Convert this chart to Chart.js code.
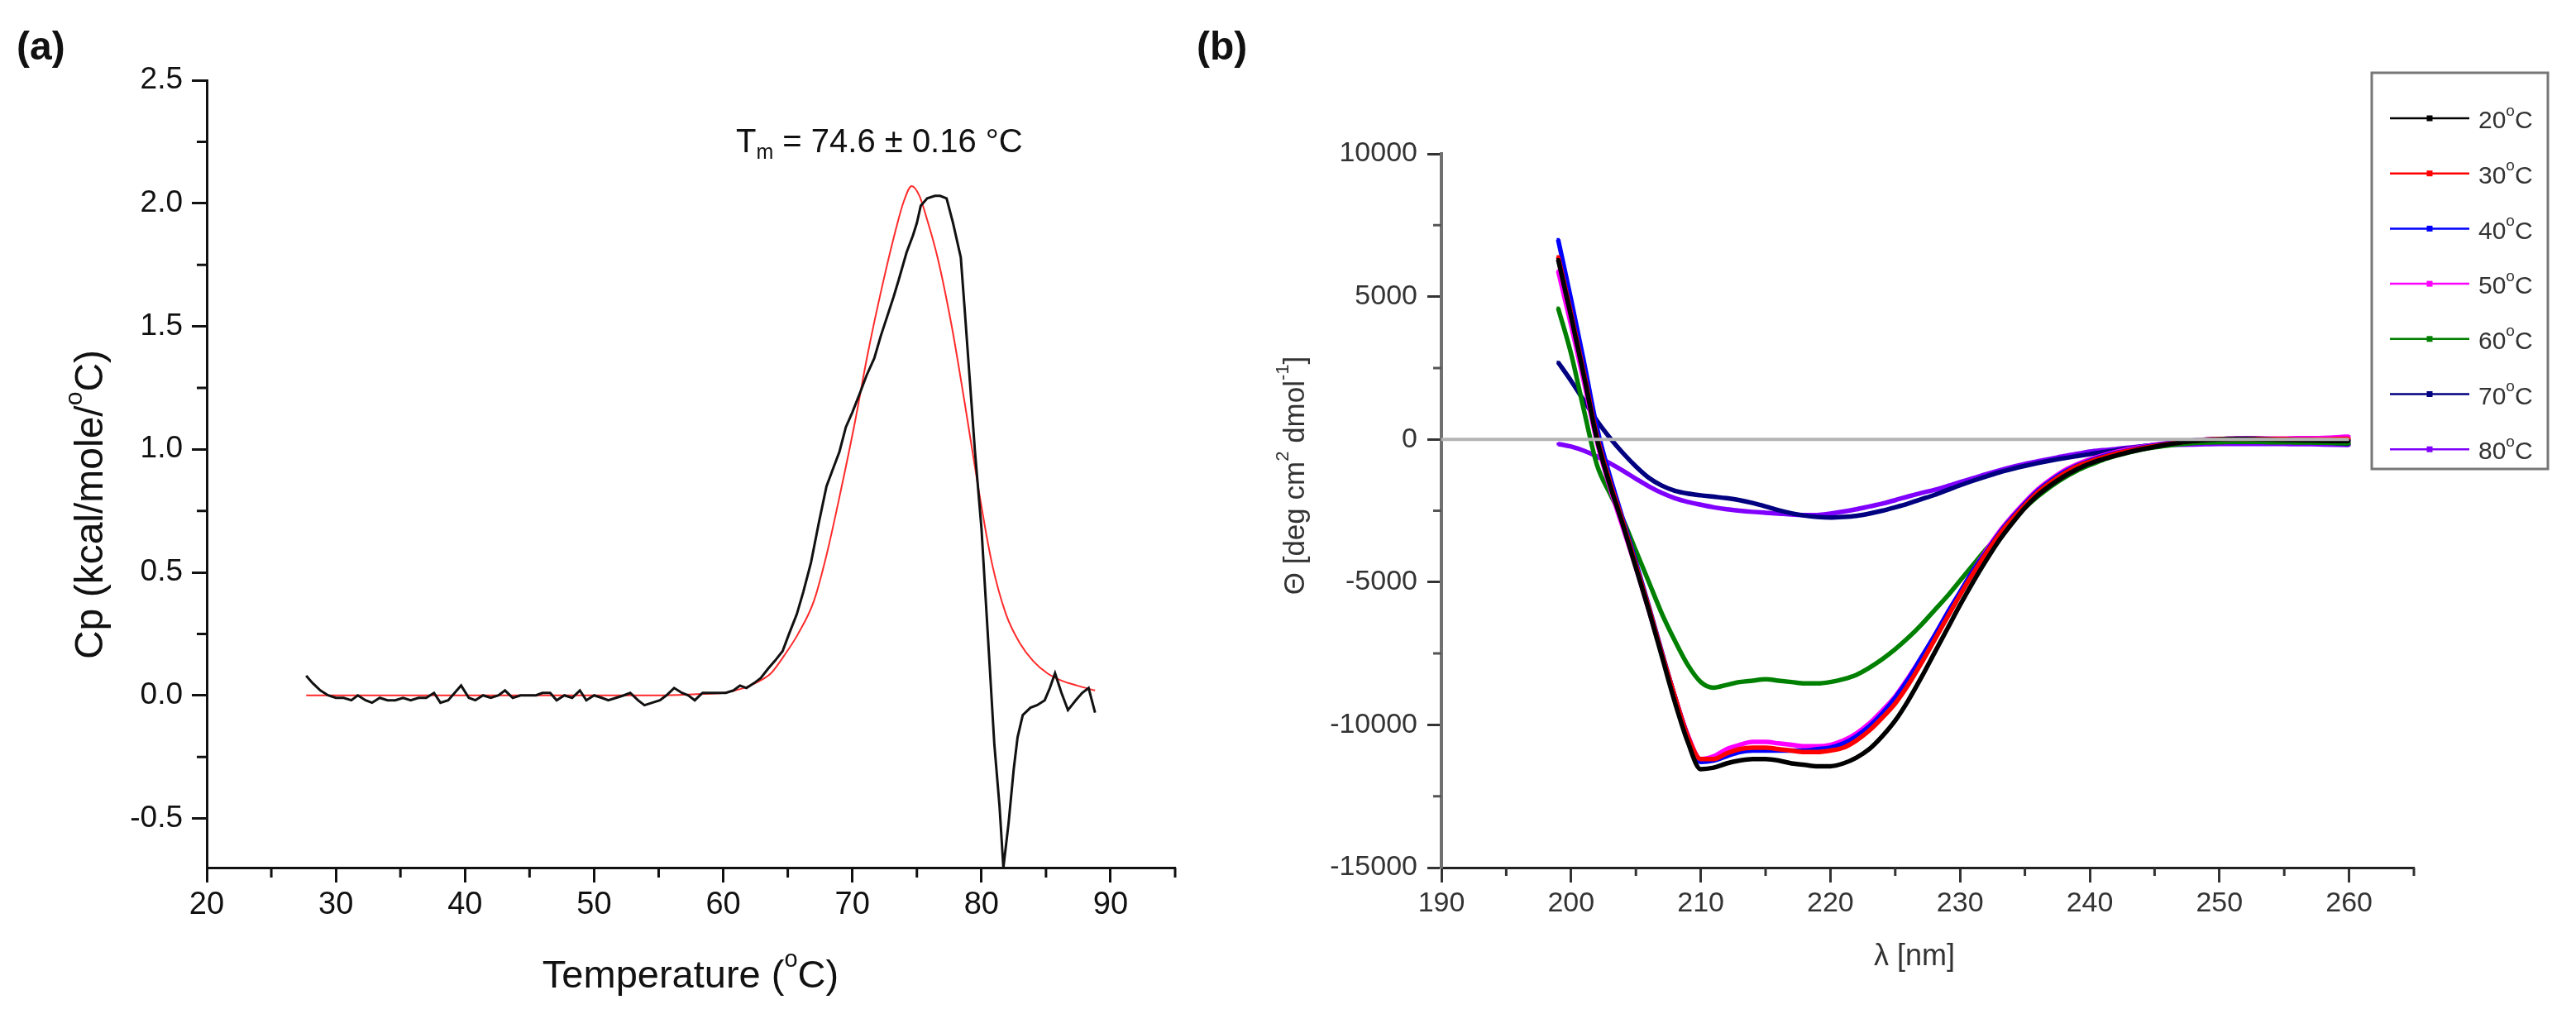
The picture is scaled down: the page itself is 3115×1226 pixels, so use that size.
<!DOCTYPE html>
<html>
<head>
<meta charset="utf-8">
<title>DSC e dicroismo circular</title>
<script src="https://cdn.jsdelivr.net/npm/chart.js@4.4.1/dist/chart.umd.min.js"></script>
<style>
	html, body { margin: 0; padding: 0; background: #fff; }
	body { width: 3115px; height: 1226px; position: relative; overflow: hidden; font-family: 'Liberation Sans', Arial, sans-serif; }
	canvas { position: absolute; top: 0; }
	#graficoDSC { left: 0; }
	#graficoCD { left: 1430px; }
	.painel { position: absolute; top: 32px; z-index: 2; font-weight: bold; font-size: 48px; line-height: 1; color: #111; }
</style>
</head>
<body>
<div class="painel" style="left: 20px;">(a)</div>
<div class="painel" style="left: 1447px;">(b)</div>
<canvas id="graficoDSC" width="1430" height="1226"></canvas>
<canvas id="graficoCD" width="1685" height="1226"></canvas>
<script>
// (a) DSC: Cp medido e curva ajustada
var temperaturasDSC = [27.7, 28.2, 28.8, 29.4, 30.0, 30.6, 31.2, 31.7, 32.3, 32.8, 33.4, 34.0, 34.6, 35.2, 35.8, 36.4, 37.0, 37.6, 38.1, 38.7,
	39.2, 39.7, 40.3, 40.8, 41.4, 42.0, 42.6, 43.1, 43.7, 44.3, 44.9, 45.5, 46.0, 46.6, 47.1, 47.7, 48.3, 48.9, 49.4, 50.0,
	50.6, 51.1, 51.7, 52.3, 52.8, 53.4, 53.9, 54.5, 55.1, 55.6, 56.2, 56.8, 57.3, 57.8, 58.4, 59.0, 59.6, 60.2, 60.8, 61.3,
	61.8, 62.4, 62.9, 63.5, 64.0, 64.6, 65.1, 65.7, 66.2, 66.8, 67.4, 68.0, 68.5, 69.0, 69.5, 70.0, 70.6, 71.1, 71.7, 72.2,
	72.7, 73.2, 73.6, 74.2, 74.7, 75.0, 75.3, 75.8, 76.4, 76.8, 77.3, 77.8, 78.4, 78.7, 79.1, 79.5, 80.0, 80.4, 81.0, 81.4,
	81.7, 82.1, 82.5, 82.8, 83.2, 83.8, 84.3, 84.9, 85.3, 85.7, 86.2, 86.7, 87.3, 87.8, 88.3, 88.8];
var cpExperimental = [0.08, 0.05, 0.02, 0.00, -0.01, -0.01, -0.02, 0.00, -0.02, -0.03, -0.01, -0.02, -0.02, -0.01, -0.02, -0.01, -0.01, 0.01, -0.03, -0.02,
	0.01, 0.04, -0.01, -0.02, 0.00, -0.01, 0.00, 0.02, -0.01, 0.00, 0.00, 0.00, 0.01, 0.01, -0.02, 0.00, -0.01, 0.02, -0.02, 0.00,
	-0.01, -0.02, -0.01, 0.00, 0.01, -0.02, -0.04, -0.03, -0.02, 0.00, 0.03, 0.01, 0.00, -0.02, 0.01, 0.01, 0.01, 0.01, 0.02, 0.04,
	0.03, 0.05, 0.07, 0.11, 0.14, 0.18, 0.25, 0.33, 0.42, 0.54, 0.70, 0.85, 0.92, 0.99, 1.09, 1.15, 1.23, 1.30, 1.37, 1.46,
	1.54, 1.62, 1.69, 1.80, 1.87, 1.92, 1.99, 2.02, 2.03, 2.03, 2.02, 1.92, 1.78, 1.57, 1.28, 0.99, 0.68, 0.33, -0.20, -0.45,
	-0.70, -0.52, -0.30, -0.17, -0.08, -0.05, -0.04, -0.02, 0.03, 0.09, 0.01, -0.06, -0.02, 0.01, 0.03, -0.07];
var temperaturasAjuste = [27.7, 35.0, 45.0, 55.0, 58.0, 60.0, 61.6, 62.5, 63.7, 64.7, 65.8, 67.0, 68.0, 69.1, 70.2, 71.2, 72.3, 73.4, 74.0, 74.6,
	75.2, 75.7, 76.6, 77.7, 78.7, 79.8, 80.8, 81.9, 83.0, 84.0, 85.1, 86.2, 87.4, 88.8];
var cpAjuste = [0.00, 0.00, 0.00, 0.00, 0.005, 0.01, 0.03, 0.05, 0.09, 0.16, 0.25, 0.38, 0.57, 0.83, 1.11, 1.39, 1.66, 1.90, 2.01, 2.07,
	2.03, 1.95, 1.78, 1.50, 1.19, 0.83, 0.54, 0.33, 0.21, 0.14, 0.09, 0.06, 0.04, 0.02];
var marcasMenoresTemp = [25, 35, 45, 55, 65, 75, 85, 95];
var marcasMenoresCp = [-0.25, 0.25, 0.75, 1.25, 1.75, 2.25];

// (b) CD: elipticidade por temperatura
var comprimentosOnda = [199, 200, 201, 202, 203, 204, 205, 206, 207, 208, 209, 210, 211, 212, 213, 214, 215, 216, 217, 218, 219,
	220, 221, 222, 223, 224, 225, 226, 227, 228, 229, 230, 231, 232, 233, 234, 235, 236, 237, 238, 239, 240,
	241, 242, 243, 244, 245, 246, 247, 248, 249, 250, 251, 252, 253, 254, 255, 256, 257, 258, 259, 260];
var rotulosTemperatura = ['20', '30', '40', '50', '60', '70', '80'];
var coresTemperatura = ['#000000', '#ff0000', '#0000ff', '#ff00ff', '#008000', '#000080', '#8000ff'];
var theta20 = [6300, 4300, 2200, 0, -1600, -3000, -4500, -6000, -7600, -9200, -10600, -11550, -11500, -11350, -11250, -11200, -11200, -11250, -11350, -11400, -11450,
	-11450, -11350, -11150, -10850, -10400, -9850, -9150, -8350, -7500, -6650, -5800, -5000, -4250, -3550, -2950, -2400, -1950, -1600, -1300, -1050, -850,
	-700, -570, -450, -350, -260, -180, -110, -60, -20, 0, 10, 10, 0, -10, -20, -30, -40, -50, -60, -60];
var theta30 = [6400, 4400, 2300, 100, -1500, -2900, -4400, -5900, -7500, -9000, -10400, -11200, -11200, -11000, -10850, -10800, -10800, -10850, -10900, -10950, -10950,
	-10900, -10800, -10550, -10200, -9750, -9250, -8600, -7850, -7050, -6250, -5450, -4700, -4000, -3350, -2800, -2300, -1850, -1500, -1200, -950, -780,
	-630, -500, -400, -310, -230, -160, -100, -50, -10, 10, 20, 20, 20, 10, 10, 0, 0, 0, 10, 20];
var theta40 = [7000, 4900, 2700, 400, -1300, -2800, -4300, -5850, -7450, -9000, -10400, -11300, -11250, -11100, -10950, -10900, -10900, -10900, -10900, -10900, -10850,
	-10800, -10650, -10400, -10050, -9600, -9050, -8400, -7650, -6900, -6100, -5350, -4600, -3950, -3300, -2750, -2250, -1800, -1450, -1150, -920, -750,
	-600, -480, -380, -290, -210, -140, -90, -40, -10, 10, 20, 30, 20, 10, 0, -10, -10, -20, -20, -20];
var theta50 = [5900, 4000, 2000, -100, -1700, -3100, -4500, -6000, -7500, -9000, -10350, -11200, -11100, -10850, -10700, -10600, -10600, -10650, -10700, -10750, -10750,
	-10700, -10550, -10300, -9950, -9500, -9000, -8350, -7650, -6900, -6100, -5350, -4600, -3900, -3250, -2700, -2200, -1750, -1400, -1100, -880, -700,
	-560, -440, -340, -260, -190, -130, -80, -40, -10, 10, 20, 30, 30, 30, 30, 40, 40, 50, 70, 100];
var theta60 = [4600, 3000, 1000, -900, -1900, -2800, -3900, -5000, -6100, -7050, -7900, -8500, -8700, -8600, -8500, -8450, -8400, -8450, -8500, -8550, -8550,
	-8500, -8400, -8250, -8000, -7700, -7350, -6950, -6500, -6000, -5500, -4950, -4400, -3850, -3350, -2850, -2400, -2000, -1650, -1350, -1100, -900,
	-720, -580, -460, -360, -280, -220, -170, -130, -110, -100, -90, -90, -90, -100, -100, -110, -110, -120, -130, -140];
var theta70 = [2700, 2050, 1350, 650, 50, -480, -950, -1350, -1620, -1800, -1900, -1960, -2010, -2060, -2130, -2230, -2350, -2480, -2590, -2670, -2720,
	-2740, -2720, -2680, -2600, -2500, -2380, -2250, -2100, -1950, -1780, -1610, -1450, -1300, -1160, -1040, -930, -830, -740, -660, -590, -520,
	-450, -390, -320, -250, -200, -160, -120, -90, -50, -20, 0, 20, 20, 10, 0, -20, -50, -90, -130, -160];
var theta80 = [-160, -250, -400, -600, -840, -1100, -1380, -1650, -1880, -2060, -2190, -2290, -2380, -2450, -2500, -2540, -2570, -2600, -2630, -2650, -2650,
	-2600, -2530, -2450, -2350, -2250, -2130, -2000, -1880, -1770, -1640, -1500, -1360, -1220, -1090, -970, -860, -770, -680, -590, -510, -430,
	-380, -340, -290, -250, -220, -200, -190, -180, -170, -160, -160, -160, -160, -160, -160, -170, -170, -180, -190, -200];
var linhaZeroX = [190, 260];
var linhaZeroY = [0, 0];
var marcasMenoresOnda = [195, 205, 215, 225, 235, 245, 255, 265];
var marcasMenoresTheta = [-12500, -7500, -2500, 2500, 7500];

var FAMILIA = "'Liberation Sans', Arial, sans-serif";
Chart.defaults.font.family = FAMILIA;

var Graficos = Graficos || {};

function pontos(xs, ys) {
	return xs.map(function(x, i) { return { x: x, y: ys[i] }; });
}

// escreve texto com partes em sobrescrito/subscrito
function desenharTextoRico(ctx, partes, x, y, tamanho, alinhamento) {
	var fonte = function(p) {
		return (p.tipo ? Math.round(tamanho * 0.62) : tamanho) + 'px ' + FAMILIA;
	};
	var largura = 0;
	partes.forEach(function(p) {
		ctx.font = fonte(p);
		largura += ctx.measureText(p.t).width;
	});
	var posicao = alinhamento === 'left' ? x : x - largura / 2;
	ctx.textAlign = 'left';
	ctx.textBaseline = 'middle';
	partes.forEach(function(p) {
		ctx.font = fonte(p);
		var dy = p.tipo === 'sup' ? -tamanho * 0.42 : (p.tipo === 'sub' ? tamanho * 0.3 : 0);
		ctx.fillText(p.t, posicao, y + dy);
		posicao += ctx.measureText(p.t).width;
	});
}

var pluginTextos = {
	id: 'textos',
	afterDraw: function(chart, args, opcoes) {
		var ctx = chart.ctx;
		(opcoes.itens || []).forEach(function(item) {
			ctx.save();
			ctx.fillStyle = item.cor;
			ctx.translate(item.x, item.y);
			ctx.rotate(item.rotacao || 0);
			desenharTextoRico(ctx, item.partes, 0, 0, item.tamanho, item.alinhamento);
			ctx.restore();
		});
	}
};

var pluginMarcasMenores = {
	id: 'marcasMenores',
	afterDraw: function(chart, args, opcoes) {
		var ctx = chart.ctx;
		(opcoes.eixos || []).forEach(function(e) {
			var escala = chart.scales[e.id];
			ctx.save();
			ctx.strokeStyle = e.cor;
			ctx.lineWidth = e.largura;
			ctx.beginPath();
			e.valores.forEach(function(v) {
				var p = escala.getPixelForValue(v);
				if (escala.isHorizontal()) {
					ctx.moveTo(p, escala.top);
					ctx.lineTo(p, escala.top + e.comprimento);
				} else {
					ctx.moveTo(escala.right, p);
					ctx.lineTo(escala.right - e.comprimento, p);
				}
			});
			ctx.stroke();
			ctx.restore();
		});
	}
};

var pluginLegendaCaixa = {
	id: 'legendaCaixa',
	afterDraw: function(chart, args, o) {
		var ctx = chart.ctx;
		ctx.save();
		ctx.strokeStyle = o.corBorda;
		ctx.lineWidth = o.larguraBorda;
		ctx.strokeRect(o.x, o.y, o.largura, o.altura);
		var n = 0;
		chart.data.datasets.forEach(function(ds) {
			if (!ds.label) return;
			var y = o.primeiraLinha + n * o.passo;
			ctx.strokeStyle = ds.borderColor;
			ctx.lineWidth = 2.5;
			ctx.beginPath();
			ctx.moveTo(o.linhaInicio, y);
			ctx.lineTo(o.linhaFim, y);
			ctx.stroke();
			ctx.fillStyle = ds.borderColor;
			ctx.fillRect((o.linhaInicio + o.linhaFim) / 2 - 3.5, y - 3.5, 7, 7);
			ctx.fillStyle = o.corTexto;
			desenharTextoRico(ctx, [
				{ t: ds.label.replace('°C', '') },
				{ t: 'o', tipo: 'sup' },
				{ t: 'C' }
			], o.textoInicio, y + 4, o.tamanho, 'left');
			n++;
		});
		ctx.restore();
	}
};

Graficos.GraficoDSC = (function() {

	function GraficoDSC() {
		this.ctx = document.getElementById('graficoDSC').getContext('2d');
	}

	GraficoDSC.prototype.iniciar = function() {
		var grafico = new Chart(this.ctx, {
			type: 'line',
			data: {
				datasets: [{
					label: 'Cp',
					data: pontos(temperaturasDSC, cpExperimental),
					borderColor: '#111111',
					borderWidth: 3,
					pointRadius: 0,
					tension: 0
				},
				{
					label: 'Ajuste',
					data: pontos(temperaturasAjuste, cpAjuste),
					borderColor: '#ff2a2a',
					borderWidth: 2,
					pointRadius: 0,
					cubicInterpolationMode: 'monotone'
				}]
			},
			options: {
				responsive: false,
				animation: false,
				devicePixelRatio: 1,
				layout: { padding: { left: 0, top: 97, right: 9, bottom: 0 } },
				plugins: {
					legend: { display: false },
					tooltip: { enabled: false },
					textos: {
						itens: [
							{ partes: [{ t: 'Temperature (' }, { t: 'o', tipo: 'sup' }, { t: 'C)' }], x: 835, y: 1181, tamanho: 47, cor: '#111' },
							{ partes: [{ t: 'Cp (kcal/mole/' }, { t: 'o', tipo: 'sup' }, { t: 'C)' }], x: 111, y: 610, rotacao: -Math.PI / 2, tamanho: 48, cor: '#111' },
							{ partes: [{ t: 'T' }, { t: 'm', tipo: 'sub' }, { t: ' = 74.6 ± 0.16 °C' }], x: 890, y: 173, tamanho: 40, cor: '#111', alinhamento: 'left' }
						]
					},
					marcasMenores: {
						eixos: [
							{ id: 'x', valores: marcasMenoresTemp, comprimento: 12, largura: 3, cor: '#111' },
							{ id: 'y', valores: marcasMenoresCp, comprimento: 12, largura: 3, cor: '#111' }
						]
					}
				},
				scales: {
					x: {
						type: 'linear',
						min: 20,
						max: 95,
						afterFit: function(escala) { escala.height = 177; escala.paddingLeft = 0; escala.paddingRight = 0; },
						border: { color: '#111', width: 3 },
						grid: { drawOnChartArea: false, tickLength: 18, tickWidth: 3, tickColor: '#111' },
						ticks: { stepSize: 10, includeBounds: false, autoSkip: false, maxRotation: 0, padding: 5, color: '#111', font: { size: 38 } }
					},
					y: {
						min: -0.7,
						max: 2.5,
						afterFit: function(escala) { escala.width = 250; escala.paddingTop = 0; escala.paddingBottom = 0; },
						border: { color: '#111', width: 3 },
						grid: { drawOnChartArea: false, tickLength: 18, tickWidth: 3, tickColor: '#111' },
						ticks: {
							stepSize: 0.5, includeBounds: false, padding: 11, color: '#111', font: { size: 37 },
							callback: function(v) { return v.toFixed(1); }
						}
					}
				}
			},
			plugins: [pluginTextos, pluginMarcasMenores]
		});
	}

	return GraficoDSC;

}());

Graficos.GraficoCD = (function() {

	function GraficoCD() {
		this.ctx = document.getElementById('graficoCD').getContext('2d');
	}

	GraficoCD.prototype.iniciar = function() {
		var series = [theta20, theta30, theta40, theta50, theta60, theta70, theta80];
		var conjuntos = [{
			label: '',
			data: pontos(linhaZeroX, linhaZeroY),
			borderColor: '#b4b4b4',
			borderWidth: 4,
			pointRadius: 0
		}];
		series.forEach(function(serie, i) {
			conjuntos.push({
				label: rotulosTemperatura[i] + '°C',
				data: pontos(comprimentosOnda, serie),
				borderColor: coresTemperatura[i],
				backgroundColor: coresTemperatura[i],
				borderWidth: 5.5,
				pointRadius: 2.5,
				pointStyle: 'rect',
				pointBorderWidth: 0,
				cubicInterpolationMode: 'monotone'
			});
		});

		var grafico = new Chart(this.ctx, {
			type: 'line',
			data: { datasets: conjuntos },
			options: {
				responsive: false,
				animation: false,
				devicePixelRatio: 1,
				layout: { padding: { left: 0, top: 186, right: 196, bottom: 0 } },
				plugins: {
					legend: { display: false },
					tooltip: { enabled: false },
					textos: {
						itens: [
							{ partes: [{ t: 'λ [nm]' }], x: 885, y: 1157, tamanho: 36, cor: '#333' },
							{ partes: [{ t: 'Θ [deg cm' }, { t: '2', tipo: 'sup' }, { t: ' dmol' }, { t: '-1', tipo: 'sup' }, { t: ']' }], x: 137, y: 575, rotacao: -Math.PI / 2, tamanho: 35, cor: '#333' }
						]
					},
					marcasMenores: {
						eixos: [
							{ id: 'x', valores: marcasMenoresOnda, comprimento: 10, largura: 3, cor: '#333' },
							{ id: 'y', valores: marcasMenoresTheta, comprimento: 10, largura: 3, cor: '#555' }
						]
					},
					legendaCaixa: {
						x: 1438, y: 88, largura: 213, altura: 479,
						corBorda: '#777', larguraBorda: 3,
						primeiraLinha: 143, passo: 66.7,
						linhaInicio: 1460, linhaFim: 1556, textoInicio: 1567,
						tamanho: 30, corTexto: '#333'
					}
				},
				scales: {
					x: {
						type: 'linear',
						min: 190,
						max: 265,
						afterFit: function(escala) { escala.height = 177; escala.paddingLeft = 0; escala.paddingRight = 0; },
						border: { color: '#222', width: 3 },
						grid: { drawOnChartArea: false, tickLength: 18, tickWidth: 3, tickColor: '#333' },
						ticks: { stepSize: 10, includeBounds: false, autoSkip: false, maxRotation: 0, padding: 5, color: '#333', font: { size: 34 } }
					},
					y: {
						min: -15000,
						max: 10000,
						afterFit: function(escala) { escala.width = 313; escala.paddingTop = 0; escala.paddingBottom = 0; },
						border: { color: '#707070', width: 4 },
						grid: { drawOnChartArea: false, tickLength: 17, tickWidth: 3, tickColor: '#333' },
						ticks: {
							stepSize: 5000, includeBounds: false, padding: 12, color: '#333', font: { size: 34 },
							callback: function(v) { return String(v); }
						}
					}
				}
			},
			plugins: [pluginTextos, pluginMarcasMenores, pluginLegendaCaixa]
		});
	}

	return GraficoCD;

}());

var graficoDSC = new Graficos.GraficoDSC();
graficoDSC.iniciar();

var graficoCD = new Graficos.GraficoCD();
graficoCD.iniciar();
</script>
</body>
</html>
